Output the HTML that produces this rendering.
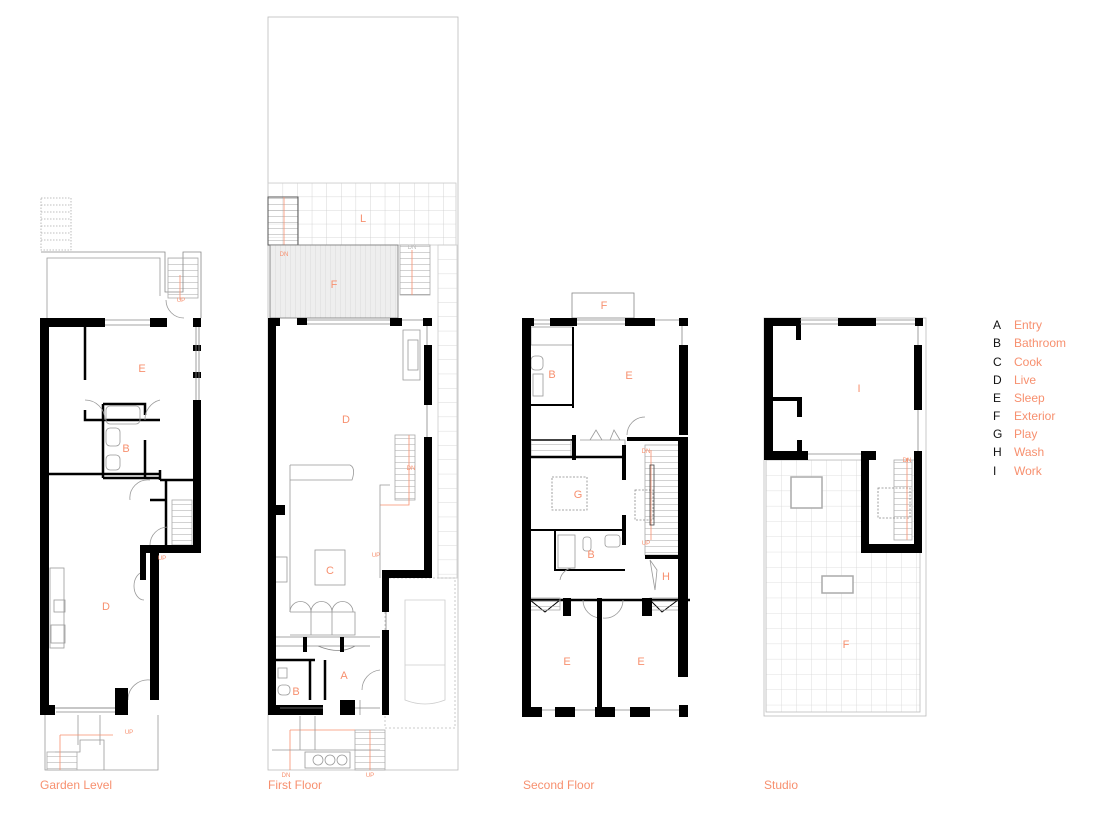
<!DOCTYPE html>
<html><head><meta charset="utf-8"><style>
html,body{margin:0;padding:0;background:#fff;width:1100px;height:830px;overflow:hidden}
svg{display:block}
.t{font-family:"Liberation Sans",sans-serif;fill:#f7906f}
.k{font-family:"Liberation Sans",sans-serif;fill:#111}
</style></head><body>
<svg width="1100" height="830" viewBox="0 0 1100 830" xmlns="http://www.w3.org/2000/svg">
<defs>
<pattern id="pave" x="268" y="183" width="14.6" height="13.6" patternUnits="userSpaceOnUse"><path d="M0 0H14.6M0 0V13.6" stroke="#ccc" stroke-width="0.8" fill="none"/></pattern>
<pattern id="deck" x="270" y="245" width="5" height="73" patternUnits="userSpaceOnUse"><rect width="5" height="73" fill="#eee"/><path d="M0 0V73" stroke="#ccc" stroke-width="0.6"/></pattern>
<pattern id="roof" x="766" y="460" width="15" height="15.3" patternUnits="userSpaceOnUse"><path d="M0 0H15M0 0V15.3" stroke="#d6d6d6" stroke-width="0.8" fill="none"/></pattern>
<pattern id="side" x="438" y="245" width="20" height="14.3" patternUnits="userSpaceOnUse"><path d="M0 0H20" stroke="#ccc" stroke-width="0.8"/></pattern>
<pattern id="st" width="30" height="6" patternUnits="userSpaceOnUse"><path d="M0 0H30" stroke="#888" stroke-width="0.7"/></pattern>
</defs>
<g fill="none" stroke="#999" stroke-width="0.8">
<!-- ============ GARDEN LEVEL ============ -->
<rect x="41" y="198" width="30" height="52" stroke-dasharray="1.5 1.5" stroke="#aaa"/>
<path d="M41 205H71M41 212H71M41 219H71M41 226H71M41 233H71M41 240H71" stroke-dasharray="1.5 1.5" stroke="#aaa"/>
<path d="M41 252H165V292H183V252H201V318" stroke="#888"/>
<path d="M47 318V258H160V296" />
<rect x="168" y="258" width="30" height="40" fill="url(#st)" stroke="#aaa"/>
<path d="M180 275V300" stroke="#f7906f"/>
<path d="M48 474H160M85 327V380M85 410V420H160" stroke="#000" stroke-width="2.5"/>
<path d="M103 404V478M103 404H145V415M145 440V478M103 478H160" stroke="#000" stroke-width="2.5"/>
<rect x="106" y="406" width="34" height="18" rx="4"/>
<rect x="106" y="428" width="14" height="18" rx="4"/>
<rect x="106" y="455" width="14" height="15" rx="4"/>
<path d="M160 470V480M160 480H193M166 480V545M150 500H166" stroke="#000" stroke-width="2.5"/>
<path d="M85 400A20 20 0 0 1 105 420M145 420A20 20 0 0 1 160 400M150 480A18 18 0 0 0 130 500M150 545A18 18 0 0 1 168 527M166 300A18 18 0 0 0 184 318"/>
<rect x="172" y="500" width="20" height="45" fill="url(#st)" stroke="#aaa"/>
<rect x="50" y="568" width="14" height="80"/>
<rect x="54" y="600" width="11" height="12"/>
<rect x="51" y="625" width="14" height="18"/>
<path d="M144 572A10 14 0 0 0 144 600" />
<path d="M128 700A20 20 0 0 1 150 680"/>
<path d="M45 715V770H158V715M55 752H80V740H104V770M78 715V745M100 715V745" stroke="#999"/>
<rect x="47" y="752" width="30" height="18" fill="url(#st)" stroke="#aaa"/>
<path d="M60 735H113M60 735V770" stroke="#f7906f"/>
<path d="M55 708H115" stroke="#888"/>
<!-- ============ FIRST FLOOR ============ -->
<rect x="268" y="17" width="190" height="753" stroke="#bbb"/>
<rect x="268" y="183" width="188" height="62" fill="url(#pave)" stroke="#ccc"/>
<rect x="268" y="197" width="30" height="48" fill="url(#st)" stroke="#555" stroke-width="1"/>
<path d="M284 197V245" stroke="#f7906f"/>
<rect x="270" y="245" width="128" height="73" fill="url(#deck)" stroke="#777"/>
<rect x="400" y="245" width="30" height="50" fill="url(#st)" stroke="#aaa"/>
<path d="M412 250V295" stroke="#f7906f"/>
<rect x="438" y="245" width="19" height="333" fill="url(#side)" stroke="#ccc"/>
<path d="M403 330H420V380H403Z"/>
<rect x="408" y="340" width="10" height="30"/>
<rect x="395" y="435" width="20" height="65" fill="url(#st)" stroke="#aaa"/>
<path d="M409 435V505H380" stroke="#f7906f"/>
<path d="M290 465H350Q356 468 352 480H290V465M290 480V612M390 485H380V578"/>
<rect x="315" y="550" width="30" height="35"/>
<rect x="274" y="557" width="13" height="25"/>
<path d="M290 612H355V635H290M311 612V635M332 612V635M290 612A10 10 0 0 1 311 612M311 612A10 10 0 0 1 332 612M332 612A10 10 0 0 1 353 612"/>
<path d="M276 637H380M276 646H370M318 646Q340 655 355 646" stroke="#888"/>
<path d="M276 660H315M310 660V700M325 660V700" stroke="#000" stroke-width="2.5"/>
<path d="M362 690A20 20 0 0 1 380 670M360 700V715"/>
<rect x="278" y="668" width="9" height="10"/><rect x="278" y="685" width="12" height="10" rx="4"/>
<rect x="385" y="578" width="70" height="150" stroke-dasharray="2 2" stroke="#bbb"/>
<path d="M405 600H445V700Q425 708 405 700Z M405 665H445" stroke="#ccc"/>
<rect x="355" y="730" width="30" height="40" fill="url(#st)" stroke="#aaa"/>
<path d="M370 730V770M290 730H355M290 730V770" stroke="#f7906f"/>
<path d="M272 750H380M300 716V750M315 716V750"/>
<rect x="305" y="752" width="45" height="16"/>
<circle cx="318" cy="760" r="5"/><circle cx="330" cy="760" r="5"/><circle cx="342" cy="760" r="5"/>
<!-- ============ SECOND FLOOR ============ -->
<rect x="572" y="293" width="62" height="25" stroke="#888"/>
<rect x="531" y="327" width="42" height="18"/>
<rect x="531" y="356" width="12" height="14" rx="4"/>
<rect x="533" y="374" width="10" height="22"/>
<path d="M573 327V408M531 405H573M531 440H573" stroke="#000" stroke-width="2"/>
<rect x="531" y="440" width="40" height="17" fill="url(#st)" stroke="#aaa"/>
<path d="M580 440H625V457H580M590 440L596 430L602 440M610 440L614 430L620 440"/>
<path d="M627 435A18 18 0 0 1 645 417"/>
<path d="M530 457H625" stroke="#000" stroke-width="2.5"/>
<rect x="552" y="477" width="35" height="33" stroke-dasharray="2 1.5" stroke="#888"/>
<path d="M530 530H625M555 530V570H625" stroke="#000" stroke-width="2"/>
<rect x="558" y="535" width="17" height="33"/>
<rect x="583" y="537" width="8" height="14" rx="3"/>
<rect x="605" y="535" width="15" height="12" rx="3"/>
<rect x="645" y="445" width="35" height="110" fill="url(#st)" stroke="#aaa"/>
<rect x="635" y="490" width="18" height="30" stroke-dasharray="2 1.5" stroke="#888"/>
<path d="M651 450V540" stroke="#f7906f"/>
<rect x="650" y="465" width="4" height="60" stroke="#444"/>
<path d="M530 600H690" stroke="#000" stroke-width="2.5"/>
<path d="M530 600L545 612L560 600M650 600L662 612L678 600M598 600V715" stroke="#000" stroke-width="1"/>
<path d="M583 600A18 18 0 0 0 600 618M603 618A18 18 0 0 0 623 600M560 580A14 14 0 0 1 575 568"/>
<rect x="530" y="598" width="30" height="12" fill="url(#st)" stroke="#aaa"/>
<rect x="650" y="598" width="30" height="12" fill="url(#st)" stroke="#aaa"/>
<path d="M650 560L655 590L657 570Z"/>
<!-- ============ STUDIO ============ -->
<rect x="764" y="318" width="162" height="398" stroke="#bbb"/>
<rect x="766" y="460" width="154" height="252" fill="url(#roof)" stroke="#bbb"/>
<rect x="791" y="477" width="31" height="31" stroke="#aaa" stroke-width="1.5" fill="#fff"/>
<rect x="822" y="576" width="31" height="17" stroke="#aaa" stroke-width="1.5" fill="#fff"/>
<rect x="868" y="458" width="44" height="95" fill="#fff" stroke="none"/>
<rect x="894" y="460" width="18" height="80" fill="url(#st)" stroke="#aaa"/>
<rect x="878" y="488" width="32" height="30" stroke-dasharray="2 1.5" stroke="#888"/>
<path d="M907 458V540" stroke="#f7906f"/>
</g>
<!-- black walls -->
<g fill="#000">
<!-- garden -->
<rect x="40" y="318" width="9" height="397"/>
<rect x="40" y="318" width="65" height="9"/>
<rect x="150" y="318" width="17" height="9"/>
<rect x="193" y="318" width="8" height="9"/>
<rect x="193" y="345" width="8" height="6"/><rect x="193" y="372" width="8" height="6"/>
<rect x="193" y="400" width="8" height="145"/>
<rect x="141" y="545" width="60" height="8"/>
<rect x="150" y="545" width="9" height="155"/>
<rect x="140" y="545" width="6" height="35"/>
<rect x="40" y="705" width="15" height="10"/>
<rect x="115" y="688" width="13" height="27"/>
<!-- first floor -->
<rect x="268" y="318" width="8" height="397"/>
<rect x="268" y="318" width="12" height="8"/>
<rect x="297" y="318" width="10" height="7"/>
<rect x="390" y="318" width="12" height="8"/>
<rect x="423" y="318" width="9" height="8"/>
<rect x="424" y="345" width="8" height="60"/>
<rect x="424" y="437" width="8" height="133"/>
<rect x="382" y="570" width="50" height="8"/>
<rect x="382" y="570" width="7" height="42"/>
<rect x="382" y="630" width="7" height="85"/>
<rect x="276" y="505" width="9" height="10"/>
<rect x="268" y="705" width="55" height="10"/>
<rect x="340" y="700" width="15" height="15"/>
<rect x="303" y="637" width="4" height="15"/><rect x="340" y="637" width="4" height="15"/>
<!-- second floor -->
<rect x="522" y="318" width="9" height="399"/>
<rect x="522" y="318" width="12" height="8"/>
<rect x="550" y="318" width="27" height="8"/>
<rect x="625" y="318" width="30" height="8"/>
<rect x="679" y="318" width="9" height="8"/>
<rect x="679" y="345" width="9" height="90"/>
<rect x="678" y="437" width="10" height="240"/>
<rect x="679" y="705" width="9" height="12"/>
<rect x="522" y="707" width="20" height="10"/>
<rect x="555" y="707" width="20" height="10"/>
<rect x="595" y="707" width="20" height="10"/>
<rect x="630" y="707" width="20" height="10"/>
<rect x="572" y="435" width="4" height="25"/>
<rect x="622" y="445" width="4" height="35"/>
<rect x="622" y="515" width="4" height="30"/>
<rect x="627" y="437" width="55" height="4"/>
<rect x="645" y="555" width="38" height="4"/>
<rect x="642" y="598" width="10" height="18"/>
<rect x="563" y="598" width="8" height="18"/>
<rect x="597" y="598" width="5" height="118"/>
<!-- studio -->
<rect x="764" y="318" width="9" height="142"/>
<rect x="764" y="318" width="36" height="8"/>
<rect x="838" y="318" width="38" height="8"/>
<rect x="915" y="318" width="8" height="8"/>
<rect x="914" y="345" width="8" height="65"/>
<rect x="796" y="318" width="5" height="22"/>
<rect x="764" y="397" width="38" height="4"/>
<rect x="797" y="397" width="5" height="20"/>
<rect x="797" y="440" width="5" height="20"/>
<rect x="764" y="451" width="44" height="9"/>
<rect x="861" y="451" width="15" height="9"/>
<rect x="861" y="451" width="8" height="101"/>
<rect x="861" y="544" width="61" height="9"/>
<rect x="914" y="451" width="8" height="102"/>
</g>
<!-- windows -->
<g fill="none" stroke="#888" stroke-width="0.8">
<path d="M105 320H150M105 325H150M307 320H390M307 324H390M402 320H423M534 320H550M534 324H550M577 320H625M577 324H625M655 320H679M800 320H838M800 324H838M876 320H915M876 324H915"/>
<path d="M56 708H115M56 712H115M280 708H323M355 708H380M542 710H555M575 710H595M615 710H630M650 710H679"/>
<path d="M196 327V400M199 327V400M427 326V345M427 405V437M682 326V345M918 326V345M918 410V451M808 454H861M386 612V630"/>
</g>
<!-- labels -->
<g class="t" font-size="11" text-anchor="middle">
<text x="142" y="372">E</text><text x="126" y="452">B</text><text x="106" y="610">D</text>
<text x="363" y="222">L</text><text x="334" y="288">F</text><text x="346" y="423">D</text><text x="330" y="574">C</text><text x="344" y="679">A</text><text x="296" y="695">B</text>
<text x="604" y="309">F</text><text x="629" y="379">E</text><text x="552" y="378">B</text><text x="578" y="498">G</text><text x="591" y="558">B</text><text x="666" y="580">H</text><text x="567" y="665">E</text><text x="641" y="665">E</text>
<text x="859" y="392">I</text><text x="846" y="648">F</text>
</g>
<g class="t" font-size="6" text-anchor="middle">
<text x="181" y="302">UP</text><text x="129" y="734">UP</text><text x="162" y="560">UP</text>
<text x="284" y="256">DN</text><text x="412" y="249" fill="#bbb">DN</text><text x="411" y="470">DN</text><text x="376" y="557">UP</text><text x="286" y="777">DN</text><text x="370" y="777">UP</text>
<text x="646" y="453">DN</text><text x="646" y="545">UP</text><text x="907" y="462">DN</text>
</g>
<g font-size="12">
<text class="t" x="40" y="789">Garden Level</text>
<text class="t" x="268" y="789">First Floor</text>
<text class="t" x="523" y="789">Second Floor</text>
<text class="t" x="764" y="789">Studio</text>
</g>
<g font-size="12">
<text class="k" x="993" y="329">A</text><text class="t" x="1014" y="329">Entry</text>
<text class="k" x="993" y="347">B</text><text class="t" x="1014" y="347">Bathroom</text>
<text class="k" x="993" y="366">C</text><text class="t" x="1014" y="366">Cook</text>
<text class="k" x="993" y="384">D</text><text class="t" x="1014" y="384">Live</text>
<text class="k" x="993" y="402">E</text><text class="t" x="1014" y="402">Sleep</text>
<text class="k" x="993" y="420">F</text><text class="t" x="1014" y="420">Exterior</text>
<text class="k" x="993" y="438">G</text><text class="t" x="1014" y="438">Play</text>
<text class="k" x="993" y="456">H</text><text class="t" x="1014" y="456">Wash</text>
<text class="k" x="993" y="475">I</text><text class="t" x="1014" y="475">Work</text>
</g>
</svg>
</body></html>
